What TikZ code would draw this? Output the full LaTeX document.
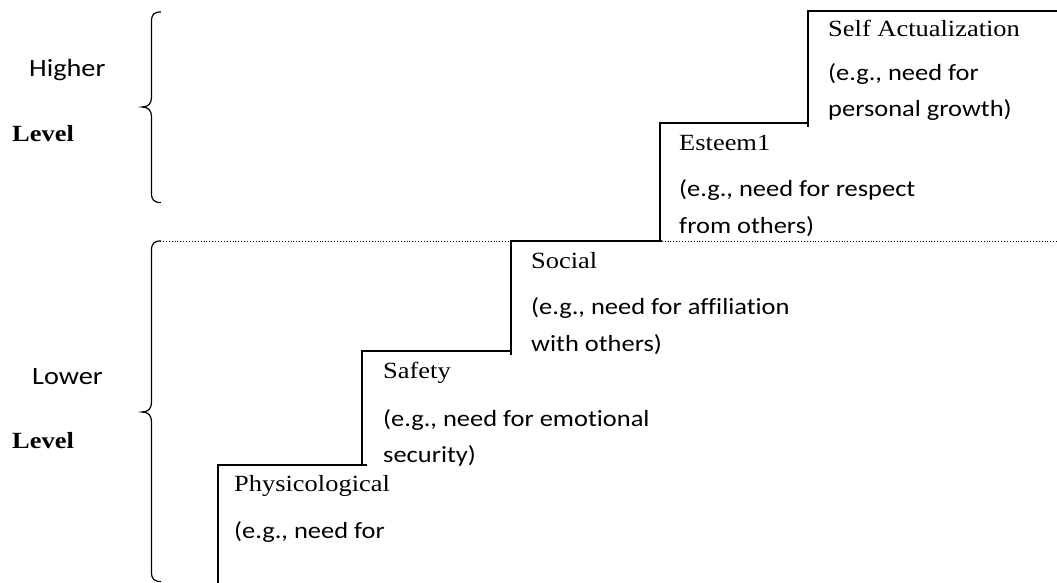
\documentclass[tikz,border=0pt]{standalone}
\usepackage{fontspec}
\setmainfont[FakeStretch=1.14]{Liberation Serif}
\newfontfamily\calibfont[FakeStretch=1.14,RawFeature={-liga;-clig;-dlig}]{Carlito}
\begin{document}
\begin{tikzpicture}[x=1pt,y=-1pt,
  stair/.style={line width=1.8pt},
  bracepath/.style={line width=1.2pt},
  title/.style={anchor=base west, inner sep=0pt, font=\fontsize{23.2}{28}\selectfont},
  desc/.style={anchor=base west, inner sep=0pt, font=\calibfont\fontsize{23.2}{28}\selectfont},
  lvl/.style={anchor=base west, inner sep=0pt, font=\calibfont\fontsize{24.8}{28}\selectfont},
  lvlb/.style={anchor=base west, inner sep=0pt, font=\bfseries\fontsize{23.2}{28}\selectfont}]
\useasboundingbox (0,0) rectangle (1057,583);

% staircase
\coordinate (p0) at (218,583);
\coordinate (p1) at (218,465);
\coordinate (p2) at (367,465);
\coordinate (s0) at (362,465);
\coordinate (s1) at (362,351);
\coordinate (s2) at (512,351);
\coordinate (c0) at (511,355);
\coordinate (c1) at (511,241);
\coordinate (c2) at (662,241);
\coordinate (e0) at (660,241);
\coordinate (e1) at (660,123);
\coordinate (e2) at (808,123);
\coordinate (a0) at (808,127);
\coordinate (a1) at (808,11);
\coordinate (a2) at (1057,11);
\draw[stair] (p0) -- (p1) -- (p2);
\draw[stair] (s0) -- (s1) -- (s2);
\draw[stair] (c0) -- (c1) -- (c2);
\draw[stair] (e0) -- (e1) -- (e2);
\draw[stair] (a0) -- (a1) -- (a2);

% dotted separator
\coordinate (d0) at (160,241);
\coordinate (d1) at (1057,241);
\draw[dotted, line width=0.9pt] (d0) -- (d1);

% braces
\draw[bracepath] (161,12) .. controls (154,12) and (151.5,14) .. (151.5,22)
  -- (151.5,97) .. controls (151.5,104) and (148,107) .. (142,107)
  .. controls (148,107) and (151.5,110) .. (151.5,117)
  -- (151.5,193) .. controls (151.5,200) and (154,202.5) .. (161,202.5);
\draw[bracepath] (161,241) .. controls (154,241) and (151.5,243) .. (151.5,251)
  -- (151.5,402) .. controls (151.5,409) and (148,412) .. (142,412)
  .. controls (148,412) and (151.5,415) .. (151.5,422)
  -- (151.5,572) .. controls (151.5,579) and (154,581.5) .. (161,581.5);

% level labels
\node[lvl] (hi) at (29,77) {Higher};
\node[lvlb] (hl) at (12,142) {Level};
\node[lvl] (lo) at (32,384) {Lower};
\node[lvlb] (ll) at (12,448) {Level};

% step texts
\node[title] (selft) at (828,37) {Self Actualization};
\node[desc] (selfd1) at (828,81) {(e.g., need for};
\node[desc] (selfd2) at (828,117) {personal growth)};

\node[title] (estt) at (679,150) {Esteem1};
\node[desc] (estd1) at (679,196) {(e.g., need for respect};
\node[desc] (estd2) at (679,233) {from others)};

\node[title] (soct) at (531,268) {Social};
\node[desc] (socd1) at (531,314) {(e.g., need for affiliation};
\node[desc] (socd2) at (531,351) {with others)};

\node[title] (saft) at (383,378) {Safety};
\node[desc] (safd1) at (383,426) {(e.g., need for emotional};
\node[desc] (safd2) at (383,462) {security)};

\node[title] (phyt) at (234,491) {Physicological};
\node[desc] (phyd1) at (234,538) {(e.g., need for};
\end{tikzpicture}
\end{document}
